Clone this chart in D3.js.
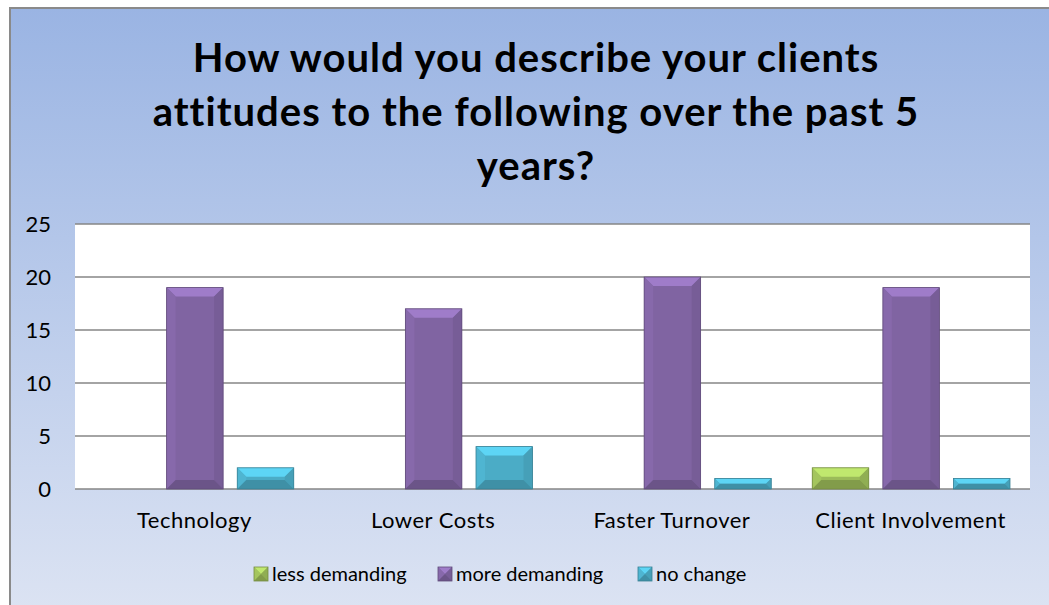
<!DOCTYPE html>
<html>
<head>
<meta charset="utf-8">
<script src="https://cdn.jsdelivr.net/npm/d3@7"></script>
<style>
  body { margin: 0; background: #fff; }
  text { font-family: Lato, "Open Sans", sans-serif; fill: #000; }
</style>
</head>
<body>
<svg id="chart" width="1049" height="605"></svg>
<script>
var categories = ["Technology", "Lower Costs", "Faster Turnover", "Client Involvement"];
var seriesNames = ["less demanding", "more demanding", "no change"];
var lessDemanding = [0, 0, 0, 2];
var moreDemanding = [19, 17, 20, 19];
var noChange = [2, 4, 1, 1];
var yTicks = [0, 5, 10, 15, 20, 25];
var titleLines = ["How would you describe your clients", "attitudes to the following over the past 5", "years?"];

var colors = ["#9bbb59", "#8064a2", "#4bacc6"];
var values = [lessDemanding, moreDemanding, noChange];

var svg = d3.select("#chart"),
    width = +svg.attr("width"),
    height = +svg.attr("height");

var defs = svg.append("defs");
var bg = defs.append("linearGradient").attr("id", "bg")
    .attr("x1", 0).attr("y1", 0).attr("x2", 0).attr("y2", 1);
bg.append("stop").attr("offset", "0%").attr("stop-color", "#9ab4e3");
bg.append("stop").attr("offset", "100%").attr("stop-color", "#dde4f3");

// chart background + frame
svg.append("rect")
    .attr("x", 10).attr("y", 8)
    .attr("width", width + 10).attr("height", height + 10)
    .attr("fill", "url(#bg)")
    .attr("stroke", "#8a8a8a")
    .attr("stroke-width", 2);

// title
svg.append("g").selectAll("text")
    .data(titleLines)
    .enter().append("text")
    .attr("x", 536)
    .attr("y", function (d, i) { return 72 + i * 54; })
    .attr("text-anchor", "middle")
    .style("font-size", "40px")
    .style("letter-spacing", "1px")
    .style("font-weight", "bold")
    .text(function (d) { return d; });

var plot = { left: 75, right: 1030, top: 224, bottom: 489 };

var x0 = d3.scaleBand()
    .domain(categories)
    .range([plot.left, plot.right]);

var x1 = d3.scaleBand()
    .domain(seriesNames)
    .range([21, x0.bandwidth() - 20])
    .paddingInner(0.2);

var y = d3.scaleLinear()
    .domain([0, 25])
    .range([plot.bottom, plot.top]);

// plot area
svg.append("rect")
    .attr("x", plot.left).attr("y", plot.top)
    .attr("width", plot.right - plot.left)
    .attr("height", plot.bottom - plot.top)
    .attr("fill", "#fff");

// gridlines
svg.append("g")
    .selectAll("line")
    .data(yTicks)
    .enter().append("line")
    .attr("x1", plot.left).attr("x2", plot.right)
    .attr("y1", function (d) { return y(d); })
    .attr("y2", function (d) { return y(d); })
    .attr("stroke", "#868686")
    .attr("stroke-width", 1.5);

// y axis labels
var yAxis = d3.axisLeft(y).tickValues(yTicks).tickSize(0).tickPadding(24);
var gy = svg.append("g")
    .attr("transform", "translate(" + plot.left + ",0)")
    .call(yAxis);
gy.select(".domain").remove();
gy.selectAll("text")
    .style("font-family", "Lato, sans-serif")
    .style("font-size", "22px")
    .attr("fill", "#000");

// x axis labels
var xAxis = d3.axisBottom(x0).tickSize(0).tickPadding(23);
var gx = svg.append("g")
    .attr("transform", "translate(0," + plot.bottom + ")")
    .call(xAxis);
gx.select(".domain").remove();
gx.selectAll("text")
    .style("font-family", "Lato, sans-serif")
    .style("font-size", "22px")
    .style("letter-spacing", "0.5px")
    .attr("fill", "#000");

// beveled bar
function bevelBar(g, x, yTop, w, h, color) {
    var c = d3.color(color);
    var b = Math.min(9, h / 2, w / 2);
    var x2 = x + w, y2 = yTop + h;
    g.append("rect")
        .attr("x", x).attr("y", yTop).attr("width", w).attr("height", h)
        .attr("fill", color);
    // top face
    g.append("polygon")
        .attr("points", [[x, yTop], [x2, yTop], [x2 - b, yTop + b], [x + b, yTop + b]].join(" "))
        .attr("fill", c.brighter(0.6));
    // left
    g.append("polygon")
        .attr("points", [[x, yTop], [x + b, yTop + b], [x + b, y2 - b], [x, y2]].join(" "))
        .attr("fill", c.brighter(0.15));
    // right
    g.append("polygon")
        .attr("points", [[x2, yTop], [x2 - b, yTop + b], [x2 - b, y2 - b], [x2, y2]].join(" "))
        .attr("fill", c.darker(0.2));
    // bottom
    g.append("polygon")
        .attr("points", [[x, y2], [x + b, y2 - b], [x2 - b, y2 - b], [x2, y2]].join(" "))
        .attr("fill", c.darker(0.5));
    g.append("rect")
        .attr("x", x).attr("y", yTop).attr("width", w).attr("height", h)
        .attr("fill", "none")
        .attr("stroke", c.darker(0.8))
        .attr("stroke-width", 0.8);
}

var bars = svg.append("g");
categories.forEach(function (cat, ci) {
    seriesNames.forEach(function (s, si) {
        var v = values[si][ci];
        if (!v) return;
        var g = bars.append("g");
        bevelBar(g, x0(cat) + x1(s), y(v), x1.bandwidth(), y(0) - y(v), colors[si]);
    });
});

// legend
var legendX = [254, 438, 638];
var legend = svg.append("g");
seriesNames.forEach(function (s, i) {
    var g = legend.append("g");
    bevelBar(g, legendX[i], 567, 14, 14, colors[i]);
    g.append("text")
        .attr("x", legendX[i] + 18)
        .attr("y", 581)
        .style("font-size", "20px")
        .text(s);
});
</script>
</body>
</html>
